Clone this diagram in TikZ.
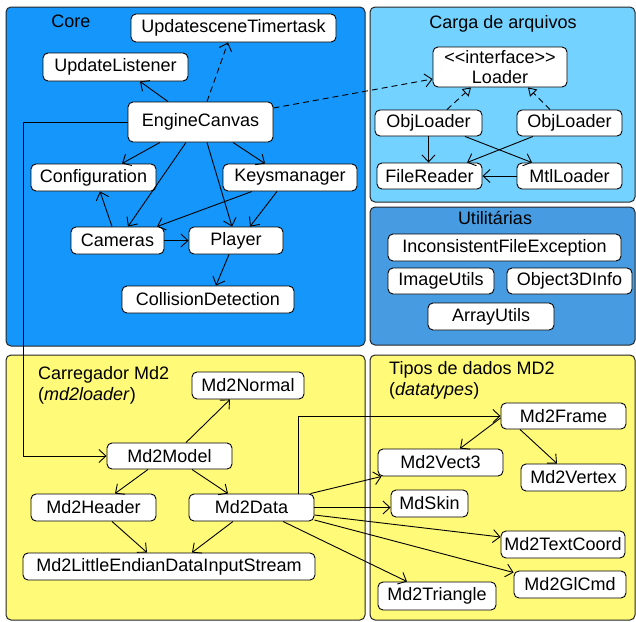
\documentclass[tikz,border=0pt]{standalone}
\usepackage{fontspec}
\setmainfont{Liberation Sans}
\usetikzlibrary{arrows.meta}

\definecolor{coreblue}{RGB}{20,150,250}
\definecolor{loadblue}{RGB}{115,210,255}
\definecolor{utilblue}{RGB}{70,155,225}
\definecolor{md2yellow}{RGB}{255,250,120}

\tikzset{
  panel/.style={draw=black!85, line width=1pt, rounded corners=5pt},
  cls/.style={draw=black, fill=white, line width=0.9pt, rounded corners=5pt,
    inner sep=0pt, align=center, font=\fontsize{18}{20}\selectfont},
  ptitle/.style={inner sep=0pt, font=\fontsize{18}{21}\selectfont, align=left},
  dep/.style={line width=0.9pt, -{Straight Barb[length=7pt,width=13pt,line width=0.9pt]}},
  usedep/.style={dep, dashed, dash pattern=on 6pt off 4pt},
  realize/.style={line width=0.9pt, dashed, dash pattern=on 6pt off 4pt,
    -{Triangle[open,length=8pt,width=10pt,line width=0.9pt]}},
}

\begin{document}
\begin{tikzpicture}[x=1pt,y=-1pt]
\useasboundingbox (0,0) rectangle (636,621);

% package panels
\fill[white] (0,0) rectangle (636,621);
\draw[panel, fill=coreblue]  (6,7)    rectangle (365,346);
\draw[panel, fill=loadblue]  (370,7)  rectangle (635,202);
\draw[panel, fill=utilblue]  (370,207) rectangle (635,345);
\draw[panel, fill=md2yellow] (6,355)  rectangle (365,620);
\draw[panel, fill=md2yellow] (370,355) rectangle (635,620);

% panel titles
\node[ptitle] (tcore) at (71,21) {Core};
\node[ptitle] (tload) at (503,24) {Carga de arquivos};
\node[ptitle] (tutil) at (495,218) {Utilitárias};
\node[ptitle, anchor=north west] (tmd2) at (38,366) {Carregador Md2\\(\textit{md2loader})};
\node[ptitle, anchor=north west] (ttypes) at (389,361) {Tipos de dados MD2\\(\textit{datatypes})};

% Core classes
\node[cls, minimum width=205pt, minimum height=28pt] (ust)  at (233.5,28)  {UpdatesceneTimertask};
\node[cls, minimum width=145pt, minimum height=28pt] (ul)   at (115.5,67)  {UpdateListener};
\node[cls, minimum width=145pt, minimum height=40pt] (ec)   at (200.5,122) {EngineCanvas};
\node[cls, minimum width=125pt, minimum height=27pt] (conf) at (93.5,177.5) {Configuration};
\node[cls, minimum width=134pt, minimum height=27pt] (keys) at (290,177.5) {Keysmanager};
\node[cls, minimum width=93pt,  minimum height=27pt] (cam)  at (117.5,240.5) {Cameras};
\node[cls, minimum width=94pt,  minimum height=27pt] (pl)   at (236,240.5) {Player};
\node[cls, minimum width=172pt, minimum height=27pt] (col)  at (208,299.5) {CollisionDetection};

% file loading classes
\node[cls, minimum width=134pt, minimum height=40pt, font=\fontsize{18}{19.5}\selectfont] (ld) at (500,67) {{<}{<}interface{>}{>}\\Loader};
\node[cls, minimum width=107pt, minimum height=26pt] (objl) at (428.5,123) {ObjLoader};
\node[cls, minimum width=105pt, minimum height=26pt] (objr) at (569.5,123) {ObjLoader};
\node[cls, minimum width=105pt, minimum height=26pt] (fr)   at (429.5,176) {FileReader};
\node[cls, minimum width=105pt, minimum height=26pt] (mtl)  at (569.5,176) {MtlLoader};

% utility classes
\node[cls, minimum width=233pt, minimum height=27pt] (ife) at (504.5,247.5) {InconsistentFileException};
\node[cls, minimum width=106pt, minimum height=26pt] (iu)  at (441,281) {ImageUtils};
\node[cls, minimum width=125pt, minimum height=26pt] (o3d) at (569.5,281) {Object3DInfo};
\node[cls, minimum width=126pt, minimum height=27pt] (au)  at (491,316.5) {ArrayUtils};

% Md2 loader classes
\node[cls, minimum width=112pt, minimum height=27pt] (nrm) at (248,385.5) {Md2Normal};
\node[cls, minimum width=125pt, minimum height=26pt] (mdl) at (169.5,456) {Md2Model};
\node[cls, minimum width=125pt, minimum height=27pt] (hdr) at (93.5,507.5) {Md2Header};
\node[cls, minimum width=125pt, minimum height=27pt] (dat) at (251.5,507.5) {Md2Data};
\node[cls, minimum width=292pt, minimum height=27pt] (lit) at (169,566.5) {Md2LittleEndianDataInputStream};

% Md2 data types
\node[cls, minimum width=125pt, minimum height=26pt] (frm) at (563.5,416) {Md2Frame};
\node[cls, minimum width=125pt, minimum height=27pt] (v3)  at (440.5,462.5) {Md2Vect3};
\node[cls, minimum width=105pt, minimum height=27pt] (vtx) at (573.5,477.5) {Md2Vertex};
\node[cls, minimum width=77pt,  minimum height=27pt] (skn) at (429.5,503.5) {MdSkin};
\node[cls, minimum width=124pt, minimum height=27pt] (tc)  at (563,544.5) {Md2TextCoord};
\node[cls, minimum width=112pt, minimum height=27pt] (gl)  at (570,584.5) {Md2GlCmd};
\node[cls, minimum width=118pt, minimum height=28pt] (tri) at (437,596) {Md2Triangle};

% Core dependencies
\draw[usedep] ([xshift=6.5pt]ec.north) -- ([xshift=-5.5pt]ust.south);
\draw[dep] ([xshift=-32.5pt]ec.north) -- ([xshift=24.5pt]ul.south);
\draw[dep] ([xshift=-40.5pt]ec.south) -- ([xshift=28.5pt]conf.north);
\draw[dep] ([xshift=32.5pt]ec.south) -- ([xshift=-25pt]keys.north);
\draw[dep] ([xshift=-14.5pt]ec.south) -- ([xshift=10.5pt]cam.north);
\draw[dep] ([xshift=6.5pt]ec.south) -- ([xshift=-4pt]pl.north);
\draw[dep] ([xshift=-38pt]keys.south) -- ([xshift=39.5pt]cam.north);
\draw[dep] ([xshift=-13pt]keys.south) -- ([xshift=14pt]pl.north);
\draw[dep] ([xshift=-5.5pt]cam.north) -- ([xshift=6.5pt]conf.south);
\draw[dep] (cam.east) -- (pl.west);
\draw[dep] ([xshift=-7pt]pl.south) -- ([xshift=8pt]col.north);

% EngineCanvas to Loader and to Md2Model
\draw[usedep] ([yshift=14pt]ec.east) -- ([yshift=-12pt]ld.west);
\coordinate (ecbend) at (23,122);
\draw[dep] (ec.west) -- (ecbend) |- (mdl.west);

% file loading relations
\draw[realize] ([xshift=18.5pt]objl.north) -- ([xshift=-29pt]ld.south);
\draw[realize] ([xshift=-19.5pt]objr.north) -- ([xshift=28pt]ld.south);
\draw[dep] (objl.south) -- (objl.south |- fr.north);
\draw[dep] ([xshift=36.5pt]objl.south) -- ([xshift=-37.5pt]mtl.north);
\draw[dep] ([xshift=-36.5pt]objr.south) -- ([xshift=37.5pt]fr.north);
\draw[dep] (mtl.west) -- (fr.east);

% Md2 loader relations
\draw[dep] ([xshift=16.5pt]mdl.north) -- ([xshift=-18pt]nrm.south);
\draw[dep] ([xshift=-21.5pt]mdl.south) -- ([xshift=21.5pt]hdr.north);
\draw[dep] ([xshift=22.5pt]mdl.south) -- ([xshift=-23.5pt]dat.north);
\draw[dep] ([xshift=18.5pt]hdr.south) -- ([xshift=-22pt]lit.north);
\draw[dep] ([xshift=-18.5pt]dat.south) -- ([xshift=23pt]lit.north);

% Md2Data to data types
\draw[dep] ([xshift=46.5pt]dat.north) |- (frm.west);
\draw[dep] ([xshift=-4pt]dat.north east) -- ([xshift=4pt]v3.south west);
\draw[dep] (dat.east) -- (dat.east -| skn.west);
\draw[dep] ([yshift=-7.5pt]dat.east) -- ([yshift=7.5pt]tc.west);
\draw[dep] ([yshift=-12.5pt]dat.east) -- ([yshift=12pt]gl.west);
\draw[dep] ([xshift=31.5pt]dat.south) -- ([xshift=-30pt]tri.north);
\draw[dep] ([yshift=-2pt]frm.west) -- ([xshift=19.5pt]v3.north);
\draw[dep] ([xshift=-43.5pt]frm.south) -- ([xshift=-16.5pt]vtx.north);
\end{tikzpicture}
\end{document}
